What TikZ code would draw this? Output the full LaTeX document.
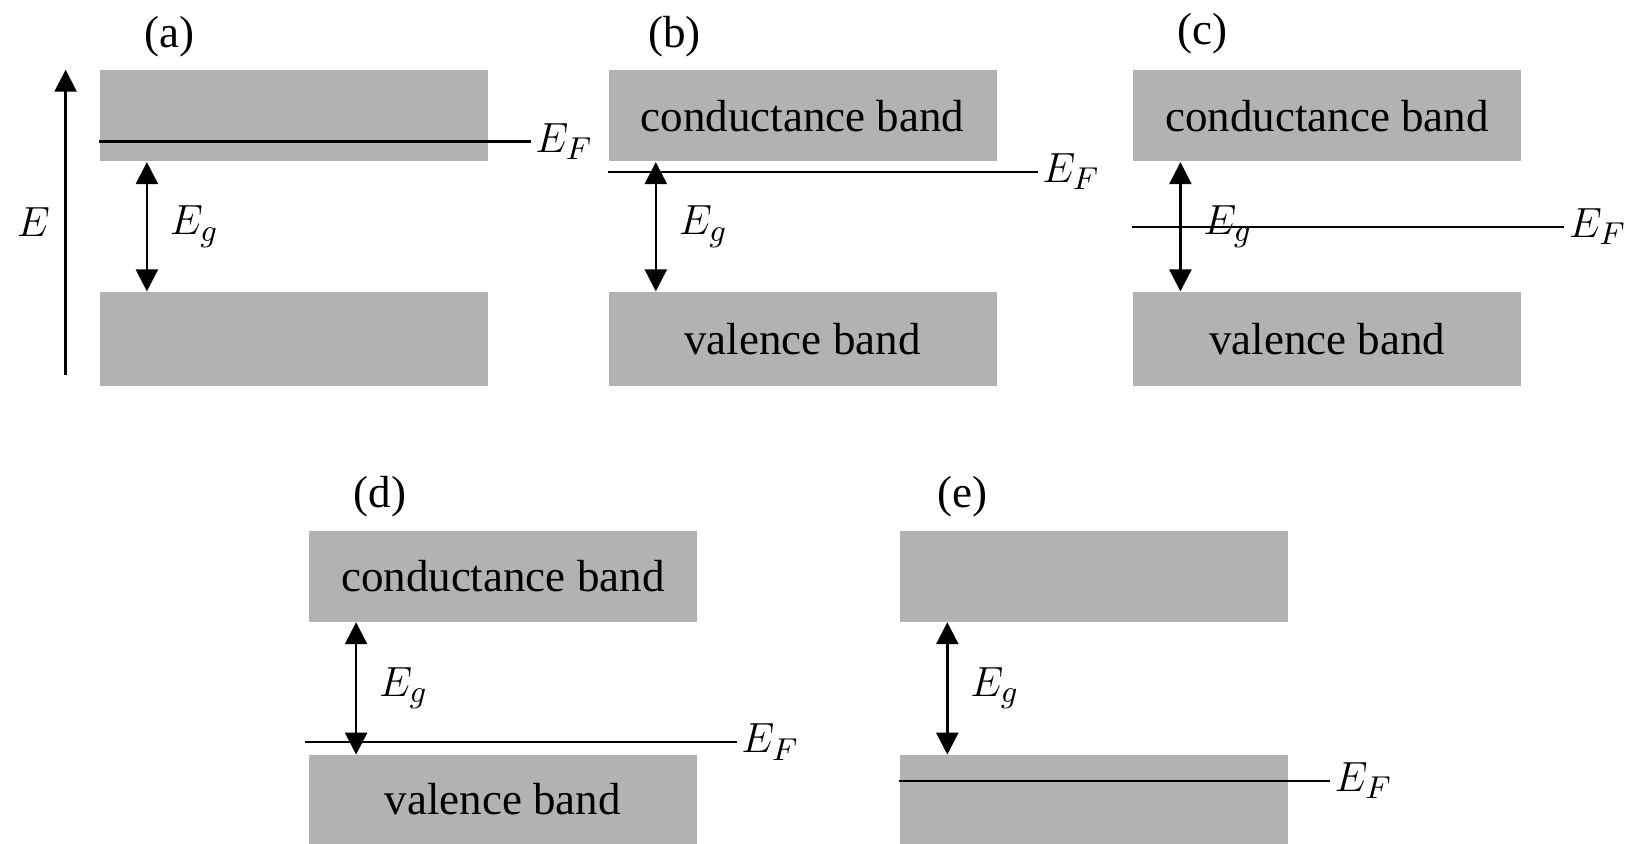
\documentclass[tikz,border=0pt]{standalone}
\usepackage{fontspec}
\setmainfont{Liberation Serif}
\usetikzlibrary{arrows.meta}
\definecolor{bandgray}{RGB}{178,178,178}
\tikzset{
  band/.style={fill=bandgray, minimum width=3.88cm, minimum height=0.91cm, inner sep=0pt, anchor=north west},
  gap/.style={{Triangle[length=2.2mm,width=2.2mm]}-{Triangle[length=2.2mm,width=2.2mm]}, line width=0.7pt},
  axis/.style={-{Triangle[length=2.2mm,width=2.2mm]}, line width=0.7pt},
  level/.style={line width=0.6pt},
  fermi/.style={anchor=west, inner sep=1pt}
}
\begin{document}
\begin{tikzpicture}[font=\fontsize{12.8}{15}\selectfont]
\useasboundingbox (0,0) rectangle (16.32,8.43);

\node[band] (cba) at (0.989,7.733) {};
\node[band, minimum height=0.94cm] (vba) at (0.989,5.516) {};
\node[band] (cbb) at (6.078,7.733) {conductance band};
\node[band, minimum height=0.94cm] (vbb) at (6.078,5.516) {valence band};
\node[band] (cbc) at (11.324,7.733) {conductance band};
\node[band, minimum height=0.94cm] (vbc) at (11.324,5.516) {valence band};
\node[band] (cbd) at (3.081,3.132) {conductance band};
\node[band, minimum height=0.884cm] (vbd) at (3.081,0.884) {valence band};
\node[band] (cbe) at (8.993,3.132) {};
\node[band, minimum height=0.884cm] (vbe) at (8.993,0.884) {};

\node (la) at (1.697,8.066) {(a)};
\node (lb) at (6.744,8.066) {(b)};
\node (lc) at (12.021,8.097) {(c)};
\node (ld) at (3.799,3.465) {(d)};
\node (le) at (9.627,3.465) {(e)};

\coordinate (elow) at (0.656,4.683);
\coordinate (ehigh) at (0.656,7.733);
\draw[axis] (elow) -- (ehigh);
\node (elab) at (0.333,6.213) {$E$};

\begin{scope}[level]
\node[fermi] (efa) at (5.308,7.015) {$E_F$};
\draw (cba.west |- efa) -- (efa.west);
\node[fermi] (efb) at (10.377,6.713) {$E_F$};
\draw (cbb.west |- efb) -- (efb.west);
\node[fermi] (efc) at (15.643,6.161) {$E_F$};
\draw (cbc.west |- efc) -- (efc.west);
\node[fermi] (efd) at (7.369,1.009) {$E_F$};
\draw ([xshift=-0.3mm]cbd.west |- efd) -- (efd.west);
\node[fermi] (efe) at (13.301,0.624) {$E_F$};
\draw (cbe.west |- efe) -- (efe.west);
\end{scope}

\begin{scope}[gap]
\draw ([xshift=4.8mm]cba.south west) -- ([xshift=4.8mm]vba.north west) node [right=1mm, midway] (ega) {$E_g$};
\draw ([xshift=4.8mm]cbb.south west) -- ([xshift=4.8mm]vbb.north west) node [right=1mm, midway] (egb) {$E_g$};
\draw ([xshift=4.8mm]cbc.south west) -- ([xshift=4.8mm]vbc.north west) node [right=1mm, midway] (egc) {$E_g$};
\draw ([xshift=4.8mm]cbd.south west) -- ([xshift=4.8mm]vbd.north west) node [right=1mm, midway] (egd) {$E_g$};
\draw ([xshift=4.8mm]cbe.south west) -- ([xshift=4.8mm]vbe.north west) node [right=1mm, midway] (ege) {$E_g$};
\end{scope}

\end{tikzpicture}
\end{document}
